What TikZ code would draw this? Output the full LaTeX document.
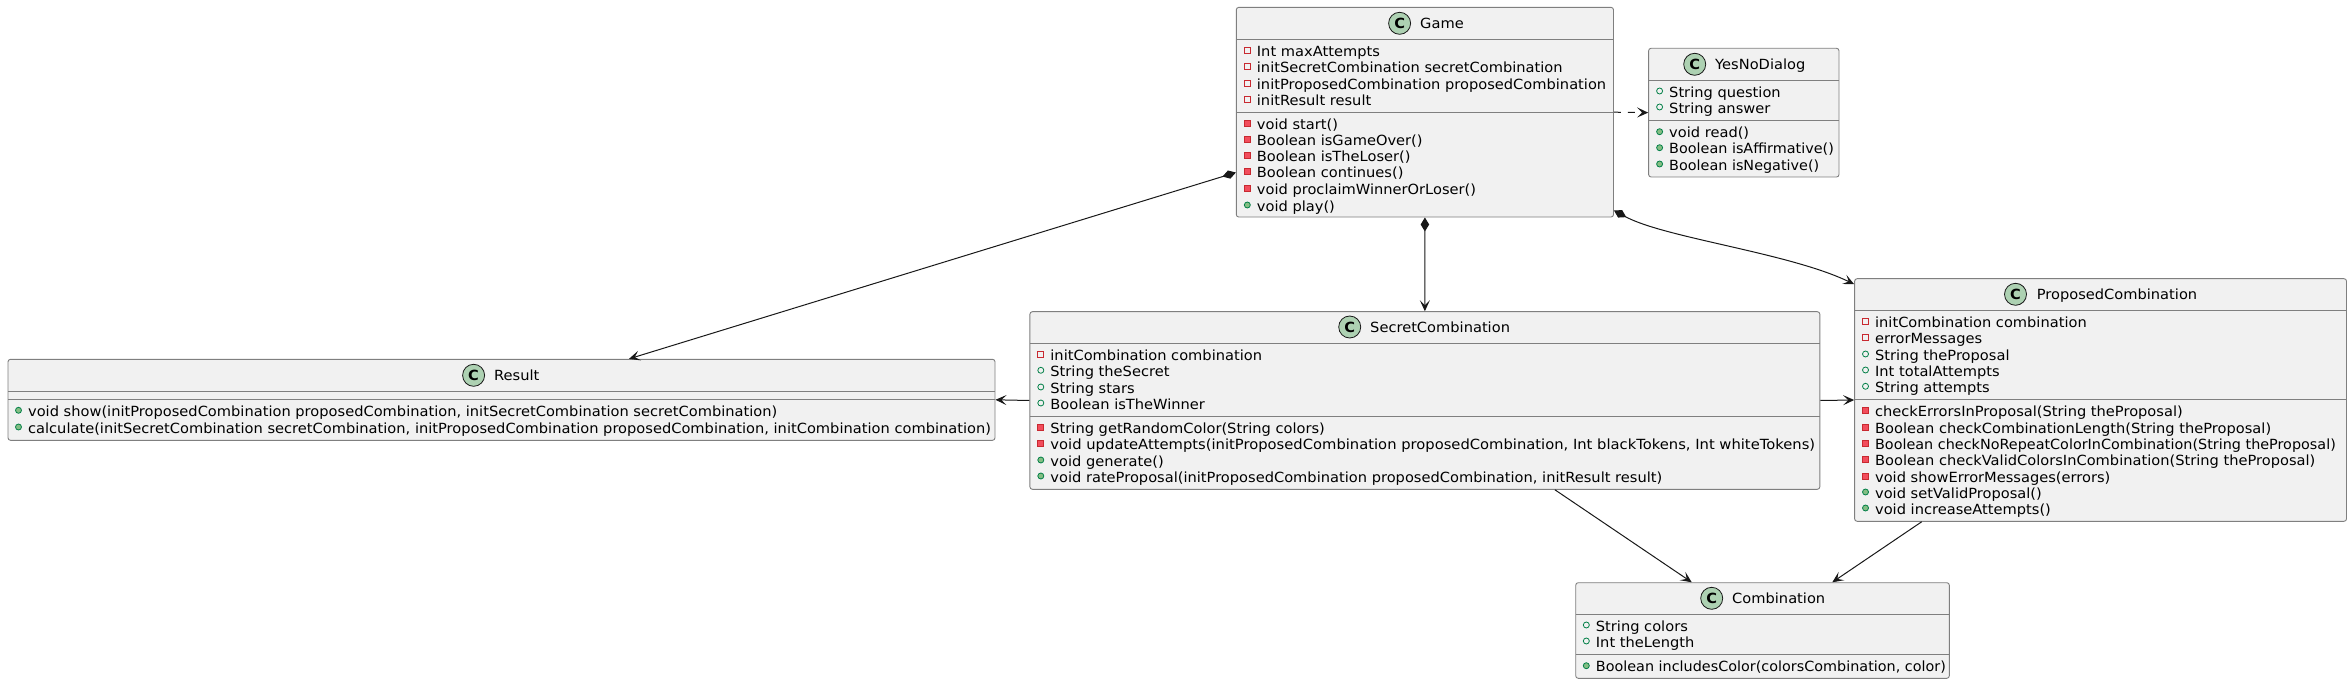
\documentclass[tikz,border=0pt]{standalone}
\usepackage{fontspec}
\setmainfont[FakeStretch=1.045]{DejaVu Sans}
\newfontfamily\snug[FakeStretch=1.027]{DejaVu Sans}
\newfontfamily\roomy[FakeStretch=1.053]{DejaVu Sans}
\usetikzlibrary{arrows.meta}

\definecolor{boxfill}{HTML}{F1F1F1}
\definecolor{boxline}{HTML}{7F7F7F}
\definecolor{linkline}{HTML}{181818}
\definecolor{spotfill}{HTML}{ADD1B2}
\definecolor{privline}{HTML}{C82930}
\definecolor{privfill}{HTML}{F24D5C}
\definecolor{publine}{HTML}{038048}
\definecolor{pubfill}{HTML}{84BE84}

\tikzset{
  classbox/.style={draw=boxline,fill=boxfill,line width=0.9pt,rounded corners=2.5pt,inner sep=0pt},
  divider/.style={draw=boxline,line width=0.9pt},
  spot/.style={circle,draw=linkline,fill=spotfill,line width=0.8pt,minimum size=22pt,inner sep=0pt,font=\fontsize{14}{16}\selectfont\bfseries},
  title/.style={anchor=base west,inner sep=0pt,font=\fontsize{14}{16}\selectfont},
  membertext/.style={anchor=base west,inner sep=0pt,font=\fontsize{14}{16}\selectfont},
  privfield/.style={rectangle,draw=privline,line width=0.8pt,minimum size=6pt,inner sep=0pt},
  privmethod/.style={rectangle,draw=privline,fill=privfill,line width=0.8pt,minimum size=6pt,inner sep=0pt},
  pubfield/.style={circle,draw=publine,line width=0.8pt,minimum size=6pt,inner sep=0pt},
  pubmethod/.style={circle,draw=publine,fill=pubfill,line width=0.8pt,minimum size=6pt,inner sep=0pt},
  link/.style={draw=linkline,line width=1pt,-{Stealth[length=11pt,width=10pt,inset=5pt]}},
  owned/.style={draw=linkline,line width=1pt,{Diamond[length=14pt,width=8.5pt]}-{Stealth[length=11pt,width=10pt,inset=5pt]}},
  uses/.style={link,dash pattern=on 7pt off 7pt}
}

% name, marker style, marker x, row y, text
\newcommand{\addmember}[5]{
  \node[#2] (#1m) at (#3,#4-1) {};
  \node[membertext] (#1) at (#3+9.4,#4+5.2) {#5};
}

\begin{document}
\begin{tikzpicture}[x=1pt,y=-1pt]
\useasboundingbox (0,0) rectangle (2352,684);

% Game
\node[classbox,minimum width=377.2pt,minimum height=209.7pt] (game) at (1424.9,112.2) {};
\draw[divider] (1236.3,39.3) -- (1613.5,39.3);
\draw[divider] (1236.3,112.3) -- (1613.5,112.3);
\node[spot] (gameSpot) at (1399.6,23.3) {C};
\node[title] (gameTitle) at (1420,28.6) {Game};
\addmember{gameF1}{privfield}{1247.3}{51}{Int maxAttempts}
\addmember{gameF2}{privfield}{1247.3}{67}{initSecretCombination secretCombination}
\addmember{gameF3}{privfield}{1247.3}{84}{initProposedCombination proposedCombination}
\addmember{gameF4}{privfield}{1247.3}{100}{initResult result}
\addmember{gameM1}{privmethod}{1247.3}{124}{void start()}
\addmember{gameM2}{privmethod}{1247.3}{140}{Boolean isGameOver()}
\addmember{gameM3}{privmethod}{1247.3}{156.7}{Boolean isTheLoser()}
\addmember{gameM4}{privmethod}{1247.3}{172.7}{Boolean continues()}
\addmember{gameM5}{privmethod}{1247.3}{189}{void proclaimWinnerOrLoser()}
\addmember{gameM6}{pubmethod}{1247.3}{206}{void play()}

% YesNoDialog
\node[classbox,minimum width=190.4pt,minimum height=128.7pt] (yesNo) at (1743.8,112.65) {};
\draw[divider] (1648.6,80.3) -- (1839,80.3);
\draw[divider] (1648.6,120.3) -- (1839,120.3);
\node[spot] (yesNoSpot) at (1694.7,64.3) {C};
\node[title] (yesNoTitle) at (1715,69.6) {YesNoDialog};
\addmember{yesNoF1}{pubfield}{1659.6}{92}{String question}
\addmember{yesNoF2}{pubfield}{1659.6}{108}{String answer}
\addmember{yesNoM1}{pubmethod}{1659.6}{132.7}{void read()}
\addmember{yesNoM2}{pubmethod}{1659.6}{148.7}{\snug Boolean isAffirmative()}
\addmember{yesNoM3}{pubmethod}{1659.6}{165}{\snug Boolean isNegative()}

% Result
\node[classbox,minimum width=987pt,minimum height=81pt] (result) at (501.5,399.8) {};
\draw[divider] (8,391.3) -- (995,391.3);
\draw[divider] (8,399.3) -- (995,399.3);
\node[spot] (resultSpot) at (473.6,375.3) {C};
\node[title] (resultTitle) at (494,380.6) {Result};
\addmember{resultM1}{pubmethod}{18.5}{411.3}{void show(initProposedCombination proposedCombination, initSecretCombination secretCombination)}
\addmember{resultM2}{pubmethod}{18.5}{428}{calculate(initSecretCombination secretCombination, initProposedCombination proposedCombination, initCombination combination)}

% SecretCombination
\node[classbox,minimum width=789.9pt,minimum height=177.6pt] (secret) at (1424.85,400.5) {};
\draw[divider] (1029.9,343.3) -- (1819.8,343.3);
\draw[divider] (1029.9,416.3) -- (1819.8,416.3);
\node[spot] (secretSpot) at (1349.7,327) {C};
\node[title] (secretTitle) at (1370,332.3) {SecretCombination};
\addmember{secretF1}{privfield}{1040.8}{355}{initCombination combination}
\addmember{secretF2}{pubfield}{1040.8}{371.3}{String theSecret}
\addmember{secretF3}{pubfield}{1040.8}{388}{String stars}
\addmember{secretF4}{pubfield}{1040.8}{404}{Boolean isTheWinner}
\addmember{secretM1}{privmethod}{1040.8}{428.3}{String getRandomColor(String colors)}
\addmember{secretM2}{privmethod}{1040.8}{444.3}{\roomy void updateAttempts(initProposedCombination proposedCombination, Int blackTokens, Int whiteTokens)}
\addmember{secretM3}{pubmethod}{1040.8}{461}{void generate()}
\addmember{secretM4}{pubmethod}{1040.8}{477}{void rateProposal(initProposedCombination proposedCombination, initResult result)}

% ProposedCombination
\node[classbox,minimum width=491.9pt,minimum height=242.6pt] (proposed) at (2100.55,400) {};
\draw[divider] (1854.6,310.7) -- (2346.5,310.7);
\draw[divider] (1854.6,399.3) -- (2346.5,399.3);
\node[spot] (proposedSpot) at (2015.5,294.3) {C};
\node[title] (proposedTitle) at (2036.6,299.6) {ProposedCombination};
\addmember{proposedF1}{privfield}{1865.5}{322}{initCombination combination}
\addmember{proposedF2}{privfield}{1865.5}{338}{errorMessages}
\addmember{proposedF3}{pubfield}{1865.5}{355}{String theProposal}
\addmember{proposedF4}{pubfield}{1865.5}{371}{Int totalAttempts}
\addmember{proposedF5}{pubfield}{1865.5}{387.3}{String attempts}
\addmember{proposedM1}{privmethod}{1865.5}{411}{checkErrorsInProposal(String theProposal)}
\addmember{proposedM2}{privmethod}{1865.5}{428}{Boolean checkCombinationLength(String theProposal)}
\addmember{proposedM3}{privmethod}{1865.5}{444}{\snug Boolean checkNoRepeatColorInCombination(String theProposal)}
\addmember{proposedM4}{privmethod}{1865.5}{460}{Boolean checkValidColorsInCombination(String theProposal)}
\addmember{proposedM5}{privmethod}{1865.5}{477}{void showErrorMessages(errors)}
\addmember{proposedM6}{pubmethod}{1865.5}{493}{void setValidProposal()}
\addmember{proposedM7}{pubmethod}{1865.5}{509}{void increaseAttempts()}

% Combination
\node[classbox,minimum width=373.6pt,minimum height=95.6pt] (combination) at (1762.5,630.5) {};
\draw[divider] (1575.7,614.3) -- (1949.3,614.3);
\draw[divider] (1575.7,654.3) -- (1949.3,654.3);
\node[spot] (combinationSpot) at (1711.7,598.3) {C};
\node[title] (combinationTitle) at (1732,603.6) {Combination};
\addmember{combinationF1}{pubfield}{1586.3}{626}{String colors}
\addmember{combinationF2}{pubfield}{1586.3}{642}{Int theLength}
\addmember{combinationM1}{pubmethod}{1586.3}{666.7}{\snug Boolean includesColor(colorsCombination, color)}

% links
\draw[uses] (game.east) -- (yesNo.west);
\draw[owned] ([yshift=45pt]game.south west) -- ([xshift=127.5pt]result.north);
\draw[owned] (game.south) -- (secret.north);
\draw[owned] ([yshift=7pt]game.south east) .. controls (1665,238) and (1790,253) .. ([yshift=-6pt]proposed.north west);
\draw[link] (secret.west) -- (result.east);
\draw[link] (secret.east) -- (proposed.west);
\draw[link] ([xshift=130pt]secret.south) -- ([xshift=-70.8pt]combination.north);
\draw[link] ([xshift=-178.85pt]proposed.south) -- ([xshift=69.8pt]combination.north);
\end{tikzpicture}
\end{document}
